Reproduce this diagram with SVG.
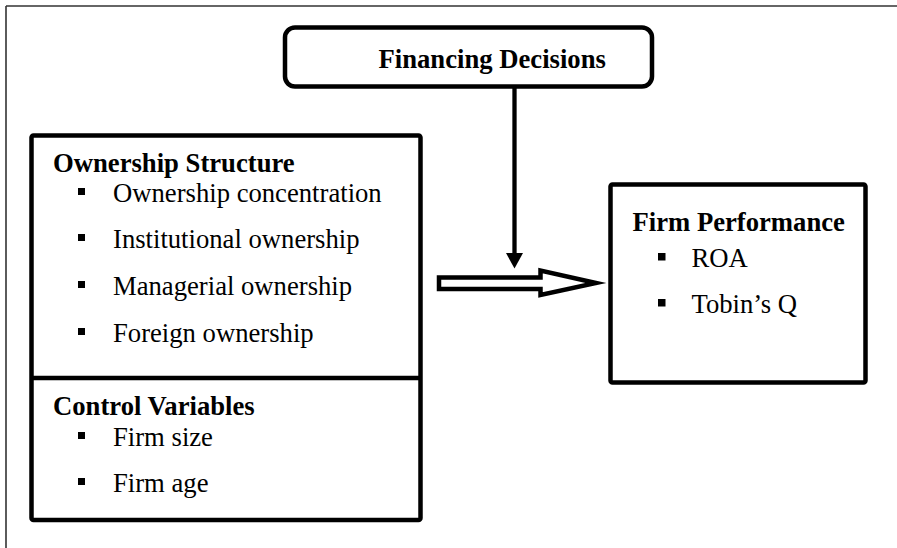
<svg xmlns="http://www.w3.org/2000/svg" width="897" height="548" viewBox="0 0 897 548">
<style>
.box{fill:#fff;stroke:#000;stroke-width:4.5}
.h{font-family:"Liberation Serif","Times New Roman",serif;font-size:26.67px;font-weight:bold;fill:#000}
.t{font-family:"Liberation Serif","Times New Roman",serif;font-size:26.67px;fill:#000}
.b{fill:#000}
</style>
<rect width="897" height="548" fill="#fff"/>
<g id="frame" stroke="#333" stroke-width="1.6" fill="none">
<line x1="6" y1="6" x2="897" y2="6"/>
<line x1="6" y1="6" x2="6" y2="548"/>
</g>
<g id="financing">
<rect class="box" x="285" y="27.5" width="367" height="59" rx="10"/>
<text class="h" x="378.5" y="67.5">Financing Decisions</text>
</g>
<g id="ownership">
<rect class="box" x="31.5" y="135.5" width="389" height="384.5" rx="2"/>
<line x1="31.5" y1="378" x2="420.5" y2="378" stroke="#000" stroke-width="4.5"/>
<text class="h" x="53" y="172">Ownership Structure</text>
<rect class="b" x="78" y="188" width="7" height="7"/>
<text class="t" x="113" y="202">Ownership concentration</text>
<rect class="b" x="78" y="234" width="7" height="7"/>
<text class="t" x="113" y="248">Institutional ownership</text>
<rect class="b" x="78" y="281" width="7" height="7"/>
<text class="t" x="113" y="295">Managerial ownership</text>
<rect class="b" x="78" y="328" width="7" height="7"/>
<text class="t" x="113" y="342">Foreign ownership</text>
</g>
<g id="control">
<text class="h" x="53" y="415">Control Variables</text>
<rect class="b" x="78" y="432" width="7" height="7"/>
<text class="t" x="113" y="446">Firm size</text>
<rect class="b" x="78" y="478" width="7" height="7"/>
<text class="t" x="113" y="492">Firm age</text>
</g>
<g id="performance">
<rect class="box" x="610.5" y="184.5" width="255" height="198" rx="2"/>
<text class="h" x="632.5" y="231">Firm Performance</text>
<rect class="b" x="658" y="253" width="7.5" height="7.5"/>
<text class="t" x="691.5" y="267">ROA</text>
<rect class="b" x="658" y="299" width="7.5" height="7.5"/>
<text class="t" x="691.5" y="313">Tobin’s Q</text>
</g>
<g id="connectors">
<line x1="514.5" y1="88" x2="514.5" y2="255" stroke="#000" stroke-width="4.3"/>
<polygon points="506,253 523,253 514.5,268.5" fill="#000"/>
<path d="M439 277.5 H540.5 V270.5 L596 283 L540.5 295 V289 H439 Z" fill="#fff" stroke="#000" stroke-width="4.5" stroke-miterlimit="10"/>
</g>
</svg>
